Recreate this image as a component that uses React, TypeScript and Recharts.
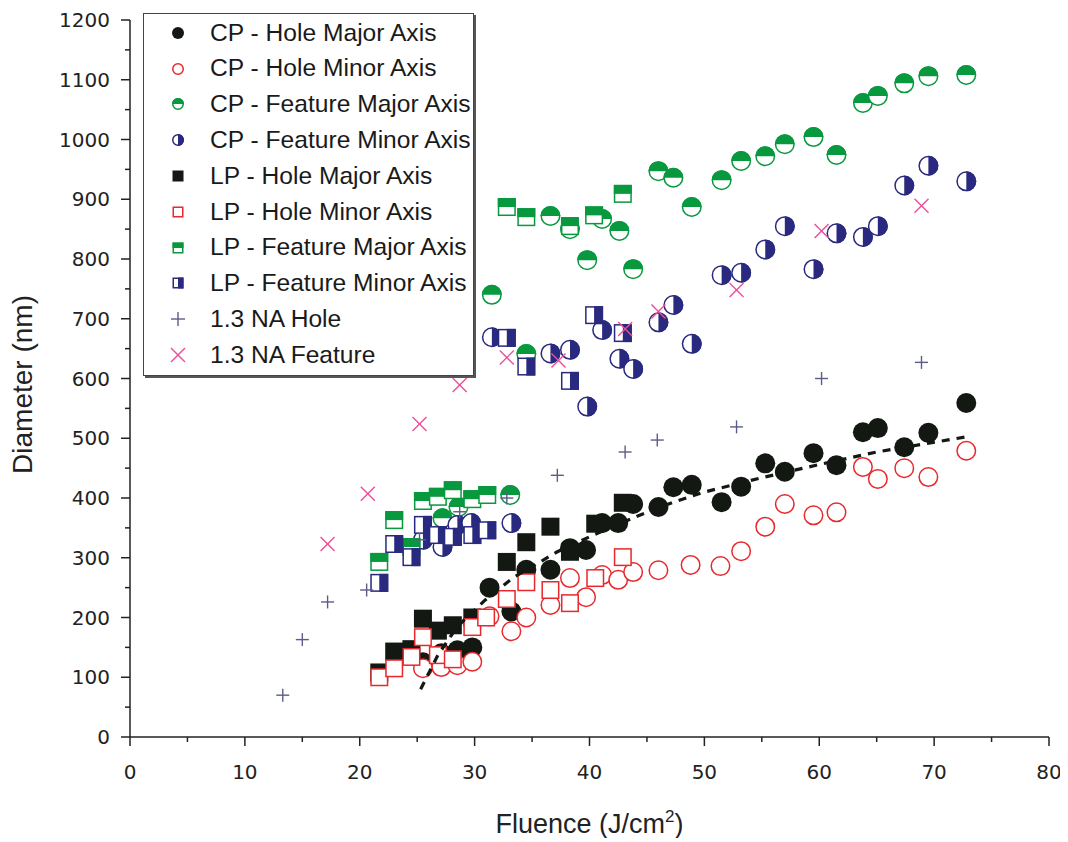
import React from 'react';
import { ScatterChart, Scatter, XAxis, YAxis, Legend } from 'recharts';

// values: [fluence J/cm2, diameter nm]
const cpHoleMajor = [
  [25.5, 125], [27.1, 140], [28.5, 145], [29.8, 150], [31.3, 250], [33.2, 210], [34.5, 280],
  [36.6, 280], [38.3, 316], [39.7, 313], [41.1, 358], [42.5, 358], [43.8, 390], [46, 385],
  [47.3, 418], [48.9, 422], [51.5, 393], [53.2, 419], [55.3, 458], [57, 444], [59.5, 475],
  [61.5, 455], [63.8, 510], [65.1, 517], [67.4, 485], [69.5, 509], [72.8, 559],
];
const cpHoleMinor = [
  [25.5, 115], [27.1, 117], [28.5, 120], [29.8, 126], [31.3, 202], [33.2, 177], [34.5, 200],
  [36.6, 221], [38.3, 266], [39.7, 234], [41.1, 271], [42.5, 263], [43.8, 276], [46, 279],
  [48.8, 288], [51.4, 286], [53.2, 311], [55.3, 352], [57, 390], [59.5, 371], [61.5, 376],
  [63.8, 452], [65.1, 432], [67.4, 450], [69.5, 435], [72.8, 479],
];
const cpFeatureMajor = [
  [27.2, 366], [28.6, 385], [33.1, 405], [31.5, 740], [34.5, 641], [36.6, 872], [38.3, 850],
  [39.8, 798], [41.1, 867], [42.6, 847], [43.8, 783], [46, 947], [47.3, 936], [48.9, 887],
  [51.5, 932], [53.2, 964], [55.3, 972], [57, 992], [59.5, 1004], [61.5, 974], [63.8, 1061],
  [65.1, 1073], [67.4, 1094], [69.5, 1106], [72.8, 1108],
];
const cpFeatureMinor = [
  [25.5, 330], [27.2, 318], [28.5, 355], [29.7, 358], [33.2, 358], [31.5, 669], [36.6, 642],
  [38.3, 648], [39.8, 553], [41.1, 681], [42.6, 633], [43.8, 616], [46, 694], [47.3, 723],
  [48.9, 658], [51.5, 773], [53.2, 777], [55.3, 816], [57, 855], [59.5, 783], [61.5, 843],
  [63.8, 837], [65.1, 855], [67.4, 923], [69.5, 956], [72.8, 930],
];
const lpHoleMajor = [
  [21.7, 108], [23, 143], [24.5, 147], [25.5, 198], [26.8, 178], [28.1, 187], [29.8, 200],
  [32.8, 293], [34.5, 326], [36.6, 352], [38.3, 310], [40.5, 357], [42.9, 392],
];
const lpHoleMinor = [
  [21.7, 100], [23, 115], [24.5, 134], [25.5, 167], [26.8, 137], [28.1, 130], [29.8, 184],
  [31, 200], [32.8, 231], [34.5, 259], [36.6, 246], [38.3, 224], [40.5, 266], [42.9, 301],
];
const lpFeatureMajor = [
  [21.7, 293], [23, 363], [24.5, 318], [25.5, 395], [26.8, 402], [28.1, 413], [29.8, 398],
  [31.1, 405], [32.8, 887], [34.5, 870], [38.3, 855], [40.4, 873], [42.9, 909],
];
const lpFeatureMinor = [
  [21.7, 258], [23, 323], [24.5, 301], [25.5, 355], [26.8, 338], [28.1, 335], [29.8, 338],
  [31.1, 346], [32.8, 668], [34.5, 620], [38.3, 596], [40.4, 706], [42.9, 676],
];
const naHole = [
  [13.3, 70], [15, 163], [17.2, 226], [20.6, 246], [25.2, 330], [28.7, 377], [32.8, 400],
  [37.2, 438], [43.1, 477], [45.9, 497], [52.8, 519], [60.2, 600], [68.9, 627],
];
const naFeature = [
  [17.2, 323], [20.7, 407], [25.2, 524], [28.7, 589], [32.8, 635], [37.3, 630], [43.1, 683],
  [46, 712], [52.8, 748], [60.2, 847], [68.9, 889],
];
// dashed fit curve
const fitCurve = [
  [25.3, 80], [26.8, 137], [28.5, 185], [30.9, 229], [33.3, 266], [35.7, 293], [37.2, 310],
  [40, 335], [44.2, 370], [47.3, 393], [50, 410], [55, 434], [60, 456], [65, 477], [72.7, 502],
];

const xTicks = [0, 5, 10, 15, 20, 25, 30, 35, 40, 45, 50, 55, 60, 65, 70, 75, 80];
const yTicks = [0, 50, 100, 150, 200, 250, 300, 350, 400, 450, 500, 550, 600, 650, 700, 750, 800, 850, 900, 950, 1000, 1050, 1100, 1150, 1200];

const BLACK = '#131813';
const RED = '#e8282c';
const GREEN = '#08993f';
const NAVY = '#29297f';
const PLUS = '#5c5c88';
const PINK = '#ec4f9a';
const AXIS = '#222';

const pts = (a: number[][]) => a.map(([x, y]) => ({ x, y }));

const Marker = ({ kind, cx, cy, r }: any) => {
  const sw = 1.5;
  const rr = r - sw / 2;
  switch (kind) {
    case 'fillCircle':
      return <circle cx={cx} cy={cy} r={r} fill={BLACK} />;
    case 'openCircle':
      return <circle cx={cx} cy={cy} r={rr} fill="#fff" stroke={RED} strokeWidth={sw} />;
    case 'topCircle':
      return (
        <g>
          <circle cx={cx} cy={cy} r={rr} fill="#fff" stroke={GREEN} strokeWidth={sw} />
          <path d={`M${cx - r},${cy} A${r},${r} 0 0 1 ${cx + r},${cy} Z`} fill={GREEN} />
        </g>
      );
    case 'rightCircle':
      return (
        <g>
          <circle cx={cx} cy={cy} r={rr} fill="#fff" stroke={NAVY} strokeWidth={sw} />
          <path d={`M${cx},${cy - r} A${r},${r} 0 0 1 ${cx},${cy + r} Z`} fill={NAVY} />
        </g>
      );
    case 'fillSquare':
      return <rect x={cx - r} y={cy - r} width={2 * r} height={2 * r} fill={BLACK} />;
    case 'openSquare':
      return <rect x={cx - rr} y={cy - rr} width={2 * rr} height={2 * rr} fill="#fff" stroke={RED} strokeWidth={sw} />;
    case 'topSquare':
      return (
        <g>
          <rect x={cx - rr} y={cy - rr} width={2 * rr} height={2 * rr} fill="#fff" stroke={GREEN} strokeWidth={sw} />
          <rect x={cx - r} y={cy - r} width={2 * r} height={r} fill={GREEN} />
        </g>
      );
    case 'rightSquare':
      return (
        <g>
          <rect x={cx - rr} y={cy - rr} width={2 * rr} height={2 * rr} fill="#fff" stroke={NAVY} strokeWidth={sw} />
          <rect x={cx} y={cy - r} width={r} height={2 * r} fill={NAVY} />
        </g>
      );
    case 'plus':
      return (
        <g stroke={PLUS} strokeWidth={1.4}>
          <line x1={cx - r} y1={cy} x2={cx + r} y2={cy} />
          <line x1={cx} y1={cy - r} x2={cx} y2={cy + r} />
        </g>
      );
    case 'cross':
      return (
        <g stroke={PINK} strokeWidth={1.4}>
          <line x1={cx - r} y1={cy - r} x2={cx + r} y2={cy + r} />
          <line x1={cx - r} y1={cy + r} x2={cx + r} y2={cy - r} />
        </g>
      );
    default:
      return <g />;
  }
};

const seriesList = [
  { name: 'CP - Hole Major Axis', data: cpHoleMajor, kind: 'fillCircle', r: 10, lr: 6 },
  { name: 'CP - Hole Minor Axis', data: cpHoleMinor, kind: 'openCircle', r: 10, lr: 6 },
  { name: 'CP - Feature Major Axis', data: cpFeatureMajor, kind: 'topCircle', r: 10, lr: 6 },
  { name: 'CP - Feature Minor Axis', data: cpFeatureMinor, kind: 'rightCircle', r: 10, lr: 6 },
  { name: 'LP - Hole Major Axis', data: lpHoleMajor, kind: 'fillSquare', r: 9, lr: 5.5 },
  { name: 'LP - Hole Minor Axis', data: lpHoleMinor, kind: 'openSquare', r: 9, lr: 5.5 },
  { name: 'LP - Feature Major Axis', data: lpFeatureMajor, kind: 'topSquare', r: 9, lr: 5.5 },
  { name: 'LP - Feature Minor Axis', data: lpFeatureMinor, kind: 'rightSquare', r: 9, lr: 5.5 },
  { name: '1.3 NA Hole', data: naHole, kind: 'plus', r: 6.5, lr: 7 },
  { name: '1.3 NA Feature', data: naFeature, kind: 'cross', r: 7, lr: 7 },
];

const XTick = ({ x, y, payload }: any) => {
  const major = payload.value % 10 === 0;
  return (
    <g>
      <line x1={x} y1={y} x2={x} y2={y + (major ? 9 : 5)} stroke={AXIS} strokeWidth={1.5} />
      {major && (
        <text x={x} y={y + 42} textAnchor="middle" fontSize={20} fill={AXIS} fontFamily="DejaVu Sans">
          {payload.value}
        </text>
      )}
    </g>
  );
};

const YTick = ({ x, y, payload }: any) => {
  const major = payload.value % 100 === 0;
  return (
    <g>
      <line x1={x - (major ? 9 : 5)} y1={y} x2={x} y2={y} stroke={AXIS} strokeWidth={1.5} />
      {major && (
        <text x={x - 20} y={y + 7} textAnchor="end" fontSize={20} fill={AXIS} fontFamily="DejaVu Sans">
          {payload.value}
        </text>
      )}
    </g>
  );
};

const XLabel = ({ viewBox }: any) => (
  <text x={viewBox.x + viewBox.width / 2} y={viewBox.y + 96} textAnchor="middle" fontSize={27} fill={AXIS} fontFamily="Liberation Sans, Arial, sans-serif">
    Fluence (J/cm<tspan dy={-11} fontSize={17}>2</tspan><tspan dy={11}>)</tspan>
  </text>
);

const YLabel = ({ viewBox }: any) => {
  const cx = viewBox.x - 28;
  const cy = viewBox.y + viewBox.height / 2 + 6;
  return (
    <text transform={`translate(${cx},${cy}) rotate(-90)`} textAnchor="middle" dominantBaseline="central" fontSize={28} fill={AXIS} fontFamily="Liberation Sans Narrow, Liberation Sans, Arial, sans-serif">
      Diameter (nm)
    </text>
  );
};

const LegendBox = () => (
  <div style={{ border: '1.5px solid #444', boxShadow: '2px 2px 0 #555', background: '#fff', paddingTop: 1, paddingBottom: 2, fontFamily: 'Liberation Sans, Arial, sans-serif', fontSize: 24.6, color: '#1a1a1a' }}>
    {seriesList.map((s) => (
      <div key={s.name} style={{ display: 'flex', alignItems: 'center', height: 35.8 }}>
        <svg width={66} height={30} style={{ flex: 'none' }}>
          <Marker kind={s.kind} cx={34} cy={15} r={s.lr} />
        </svg>
        <span style={{ whiteSpace: 'nowrap', lineHeight: 1 }}>{s.name}</span>
      </div>
    ))}
  </div>
);

export default function App() {
  return (
    <ScatterChart width={1060} height={830} margin={{ top: 12, right: 19, bottom: 41, left: 42 }}>
      <XAxis
        type="number"
        dataKey="x"
        domain={[0, 80]}
        ticks={xTicks}
        interval={0}
        tickLine={false}
        tickSize={0}
        tickMargin={0}
        tick={<XTick />}
        height={60}
        stroke={AXIS}
        strokeWidth={1.5}
        label={<XLabel />}
      />
      <YAxis
        type="number"
        dataKey="y"
        domain={[0, 1200]}
        ticks={yTicks}
        interval={0}
        tickLine={false}
        tickSize={0}
        tickMargin={0}
        tick={<YTick />}
        width={80}
        stroke={AXIS}
        strokeWidth={1.5}
        label={<YLabel />}
      />
      <Legend
        layout="vertical"
        align="center"
        verticalAlign="middle"
        wrapperStyle={{ left: 135, top: 5, width: 331 }}
        content={() => <LegendBox />}
      />
      {seriesList.map((s) => (
        <Scatter
          key={s.name}
          name={s.name}
          data={pts(s.data)}
          isAnimationActive={false}
          shape={(p: any) => <Marker kind={s.kind} cx={p.cx} cy={p.cy} r={s.r} />}
        />
      ))}
      <Scatter
        name="fit"
        data={pts(fitCurve)}
        isAnimationActive={false}
        legendType="none"
        line={{ stroke: BLACK, strokeWidth: 3.2, strokeDasharray: '8 7' }}
        lineType="joint"
        shape={() => <g />}
      />
    </ScatterChart>
  );
}
